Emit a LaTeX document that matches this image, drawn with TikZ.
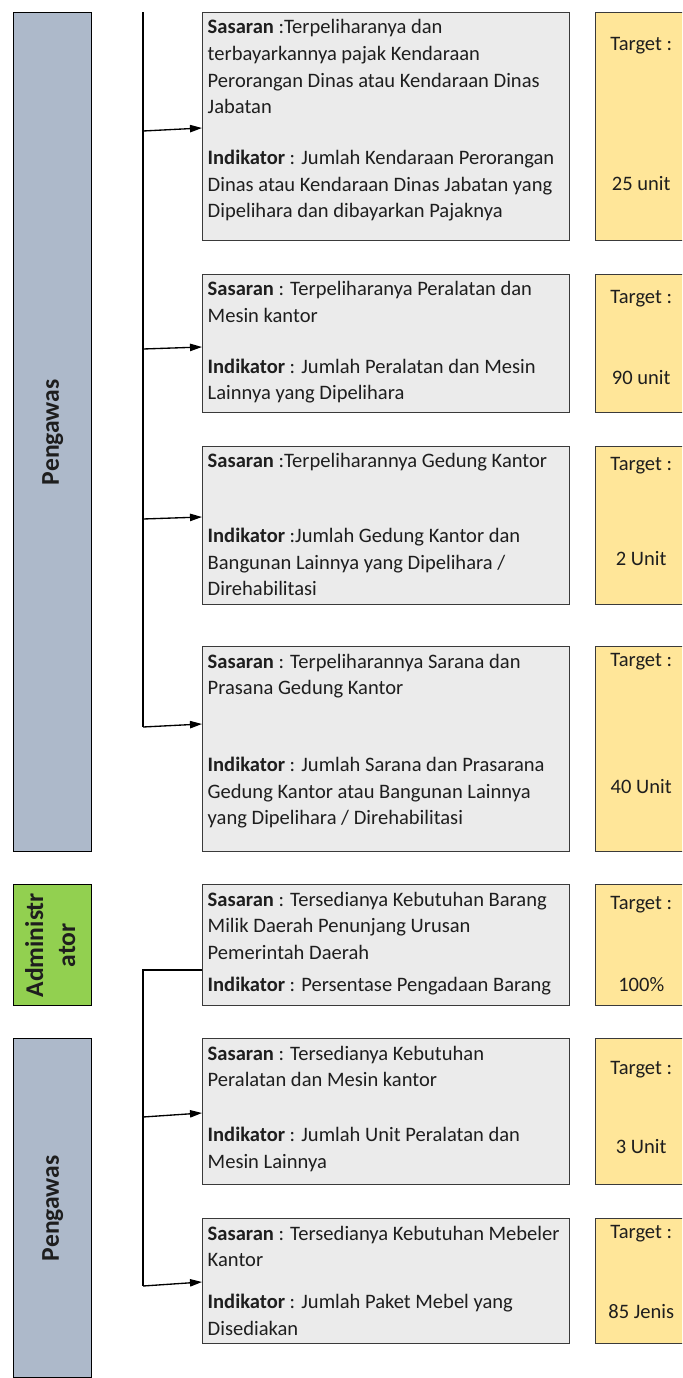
\documentclass[tikz,border=0pt]{standalone}
\usepackage{fontspec}
\setmainfont{Carlito}
\usetikzlibrary{arrows.meta}
\definecolor{barbiru}{HTML}{ADB9CA}
\definecolor{hijau}{HTML}{92D050}
\definecolor{abu}{HTML}{EBEBEB}
\definecolor{kuning}{HTML}{FFE699}
\definecolor{garisabu}{HTML}{3A3A3A}
\definecolor{teks}{HTML}{1E1E1E}
\newdimen\px \px=0.75pt
% isi kotak sasaran / kotak target (tinggi dalam px)
\newcommand{\isi}[2]{\parbox[c][#1\px][t]{357\px}{\raggedright\vspace*{7\px}#2}}
\newcommand{\tgt}[4]{\parbox[c][#1\px][t]{91\px}{\centering\vspace*{#2\px}Target :\\[#3\px]#4}}

\begin{document}
\begin{tikzpicture}[
  x=0.75pt,y=-0.75pt,
  font=\fontsize{15.4}{20}\selectfont,
  text=teks,
  bar/.style={draw=black,line width=1.1pt,fill=barbiru,anchor=north west,minimum width=78*0.75pt,inner sep=0pt,font=\fontsize{19.2}{24}\selectfont\bfseries},
  sasbox/.style={draw=garisabu,line width=1.1pt,fill=abu,anchor=north west,inner xsep=5*0.75pt,inner ysep=0pt},
  tgtbox/.style={draw=garisabu,line width=1.1pt,fill=kuning,anchor=north west,inner sep=0pt},
  garis/.style={line width=1pt,black},
  pan/.style={-{Triangle[length=9pt,width=5.5pt]},line width=1pt,black}
]
\clip (0,0) rectangle (682,1378);
% jabatan
\node[bar,minimum height=839*0.75pt] (p1) at (13,12) {\rotatebox{90}{Pengawas}};
\node[bar,fill=hijau,minimum height=121*0.75pt] (adm) at (13,884)
  {\rotatebox{90}{\begin{tabular}{@{}c@{}}Administr\\ator\end{tabular}}};
\node[bar,minimum height=339*0.75pt] (p2) at (13,1038) {\rotatebox{90}{Pengawas}};

% sasaran dan indikator
\node[sasbox] (s1) at (202,12) {\isi{228}{\textbf{Sasaran} :Terpeliharanya dan\\
  terbayarkannya pajak Kendaraan\\ Perorangan Dinas atau Kendaraan Dinas\\ Jabatan\\[24\px]
  \textbf{Indikator} : Jumlah Kendaraan Perorangan\\ Dinas atau Kendaraan Dinas Jabatan yang\\
  Dipelihara dan dibayarkan Pajaknya}};
\node[sasbox] (s2) at (202,274) {\isi{138}{\textbf{Sasaran} : Terpeliharanya Peralatan dan\\
  Mesin kantor\\[24\px]
  \textbf{Indikator} : Jumlah Peralatan dan Mesin\\ Lainnya yang Dipelihara}};
\node[sasbox] (s3) at (202,446) {\isi{158}{\textbf{Sasaran} :Terpeliharannya Gedung Kantor\\[48\px]
  \textbf{Indikator} :Jumlah Gedung Kantor dan\\ Bangunan Lainnya yang Dipelihara /\\ Direhabilitasi}};
\node[sasbox] (s4) at (202,646) {\isi{205}{\textbf{Sasaran} : Terpeliharannya Sarana dan\\
  Prasana Gedung Kantor\\[50\px]
  \textbf{Indikator} : Jumlah Sarana dan Prasarana\\ Gedung Kantor atau Bangunan Lainnya\\
  yang Dipelihara / Direhabilitasi}};
\node[sasbox] (s5) at (202,884) {\isi{121}{\textbf{Sasaran} : Tersedianya Kebutuhan Barang\\
  Milik Daerah Penunjang Urusan\\ Pemerintah Daerah\\[5\px]
  \textbf{Indikator} : Persentase Pengadaan Barang}};
\node[sasbox] (s6) at (202,1038) {\isi{146}{\textbf{Sasaran} : Tersedianya Kebutuhan\\
  Peralatan dan Mesin kantor\\[28\px]
  \textbf{Indikator} : Jumlah Unit Peralatan dan\\ Mesin Lainnya}};
\node[sasbox] (s7) at (202,1218) {\isi{125}{\textbf{Sasaran} : Tersedianya Kebutuhan Mebeler\\
  Kantor\\[15\px]
  \textbf{Indikator} : Jumlah Paket Mebel yang\\ Disediakan}};

% target
\node[tgtbox] (t1) at (595,12)   {\tgt{228}{25}{113}{25 unit}};
\node[tgtbox] (t2) at (595,274)  {\tgt{138}{16}{54}{90 unit}};
\node[tgtbox] (t3) at (595,446)  {\tgt{158}{11}{68}{2 Unit}};
\node[tgtbox] (t4) at (595,646)  {\tgt{205}{7}{100}{40 Unit}};
\node[tgtbox] (t5) at (595,884)  {\tgt{121}{12}{55}{100\%}};
\node[tgtbox] (t6) at (595,1038) {\tgt{146}{23}{52}{3 Unit}};
\node[tgtbox] (t7) at (595,1218) {\tgt{125}{7}{53}{85 Jenis}};

% garis cabang atas
\coordinate (atas) at (143,12);
\coordinate (a1) at (143,131);
\coordinate (a2) at (143,349);
\coordinate (a3) at (143,519);
\coordinate (a4) at (143,727);
\draw[garis] (atas) -- (a4);
\draw[pan] (a1) -- (s1.west |- 0,128);
\draw[pan] (a2) -- (s2.west |- 0,347);
\draw[pan] (a3) -- (s3.west |- 0,517);
\draw[pan] (a4) -- (s4.west |- 0,724);

% garis cabang bawah
\coordinate (b1) at (143,1117);
\coordinate (b2) at (143,1286);
\draw[garis] (s5.west |- 0,970) -| (b2);
\draw[pan] (b1) -- (s6.west |- 0,1113);
\draw[pan] (b2) -- (s7.west |- 0,1282);
\end{tikzpicture}
\end{document}
